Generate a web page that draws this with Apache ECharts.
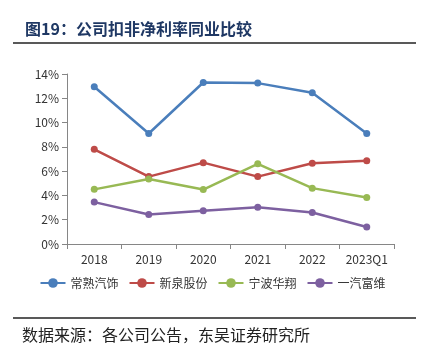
<!DOCTYPE html>
<html><head><meta charset="utf-8">
<script src="https://cdn.jsdelivr.net/npm/echarts@6/dist/echarts.min.js"></script>
<style>html,body{margin:0;padding:0;background:#fff}#c{width:425px;height:356px}</style>
</head><body><div id="c"></div>
<script>
const categories = ['2018','2019','2020','2021','2022','2023Q1'];
const yTicks = [0,2,4,6,8,10,12,14];
const changshu = [12.95, 9.1, 13.3, 13.25, 12.45, 9.1];
const xinquan = [7.8, 5.55, 6.7, 5.55, 6.65, 6.85];
const ningbo = [4.5, 5.35, 4.48, 6.6, 4.6, 3.83];
const yiqi = [3.45, 2.43, 2.73, 3.03, 2.6, 1.4];
const seriesNames = ['常熟汽饰','新泉股份','宁波华翔','一汽富维'];
const colors = ['#4A7EBB','#BE4B48','#98B954','#7D60A0'];
const values = [changshu, xinquan, ningbo, yiqi];

const chart = echarts.init(document.getElementById('c'));
const font = '"Noto Sans CJK SC", sans-serif';
chart.setOption({
  animation: false,
  backgroundColor: '#fff',
  title: {
    text: '图19：公司扣非净利率同业比较',
    left: 20, top: 16,
    textStyle: {fontFamily: font, fontSize: 16, fontWeight: 'bold', color: '#1F3864'}
  },
  grid: {left: 67, right: 31, top: 74, bottom: 112},
  legend: {
    bottom: 62, left: 'center', itemGap: 10, itemWidth: 25, itemHeight: 12,
    data: seriesNames,
    textStyle: {fontFamily: font, fontSize: 12, color: '#333'}
  },
  xAxis: {
    type: 'category', data: categories, boundaryGap: true,
    axisLine: {lineStyle: {color: '#868686'}},
    axisTick: {show: true, alignWithLabel: false, lineStyle: {color: '#868686'}},
    axisLabel: {fontFamily: font, fontSize: 12, color: '#333', margin: 9, interval: 0}
  },
  yAxis: {
    type: 'value', min: 0, max: 14, interval: 2,
    axisLine: {show: true, lineStyle: {color: '#868686'}},
    axisTick: {show: true, lineStyle: {color: '#868686'}},
    splitLine: {show: false},
    axisLabel: {fontFamily: font, fontSize: 12, color: '#333', formatter: v => yTicks.includes(v) ? v + '%' : ''}
  },
  series: values.map((d,i)=>({
    name: seriesNames[i], type: 'line', data: d,
    symbol: 'circle', symbolSize: 7,
    lineStyle: {width: 2.5, color: colors[i]},
    itemStyle: {color: colors[i]}
  })),
  graphic: [
    {type:'line', shape:{x1:13,y1:43,x2:416,y2:43}, style:{stroke:'#222', lineWidth:1.5}},
    {type:'line', shape:{x1:13,y1:318,x2:416,y2:318}, style:{stroke:'#222', lineWidth:1.5}},
    {type:'text', left: 22, top: 327, style:{text:'数据来源：各公司公告，东吴证券研究所', font:'16px "Noto Sans CJK SC"', fill:'#222'}}
  ]
});
</script></body></html>
